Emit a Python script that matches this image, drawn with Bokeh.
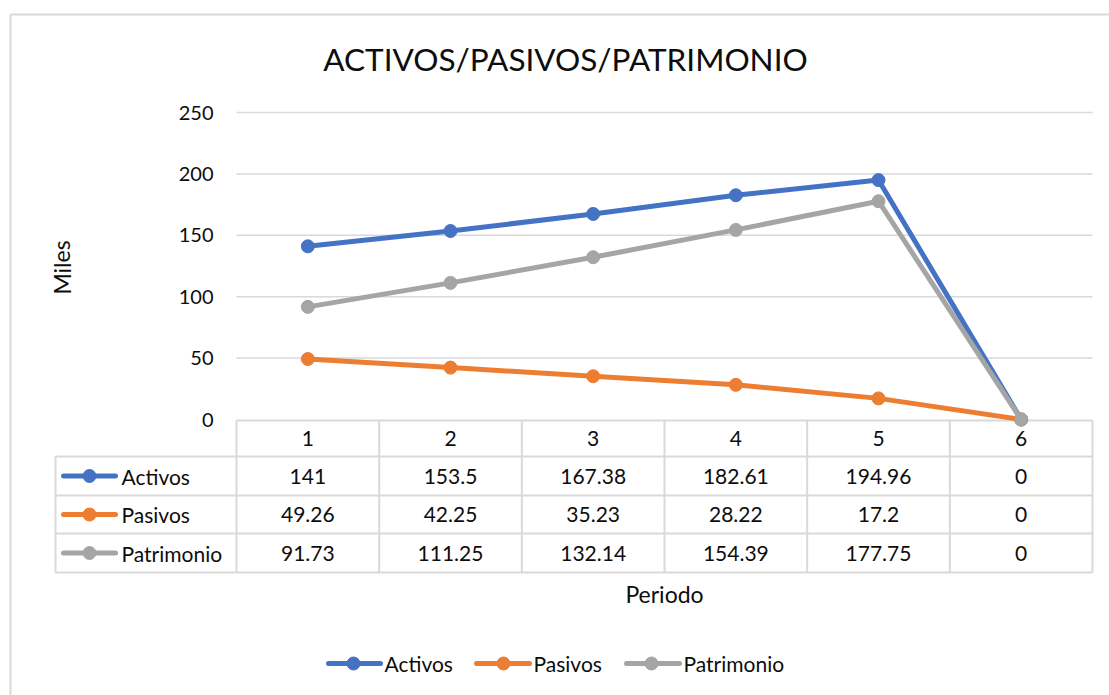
from bokeh.plotting import figure
from bokeh.models import Range1d
from bokeh.core.properties import value
from bokeh.embed import file_html
from bokeh.resources import INLINE

# ---------------- data ----------------
periods = ["1", "2", "3", "4", "5", "6"]
series_names = ["Activos", "Pasivos", "Patrimonio"]
activos = [141, 153.5, 167.38, 182.61, 194.96, 0]
pasivos = [49.26, 42.25, 35.23, 28.22, 17.2, 0]
patrimonio = [91.73, 111.25, 132.14, 154.39, 177.75, 0]
y_ticks = [0, 50, 100, 150, 200, 250]
colors = ["#4472C4", "#ED7D31", "#A5A5A5"]
title_text = "ACTIVOS/PASIVOS/PATRIMONIO"
x_label = "Periodo"
y_label = "Miles"

series_values = [activos, pasivos, patrimonio]

# ---------------- layout geometry (page pixels) ----------------
W, H = 1109, 695
OFF = 0
PX0, PX1 = 236, 1092          # plot area left/right
PY_TOP, PY_ZERO = 112, 419    # y of top tick / zero
YMAX = y_ticks[-1]
ncol = len(periods)
colw = (PX1 - PX0) / ncol
ppu = (PY_ZERO - PY_TOP) / YMAX


def dx(rx):
    return 0.5 + (rx - PX0) / colw


def dy(ry):
    return (PY_ZERO - ry) / ppu


FONT = value("Lato")
TXT = "#0d0d0d"
GRID = "#D9D9D9"
FS = "20px"
FS_TAB = "21px"
FS_NAME = "21px"

p = figure(width=W, height=H,
           x_range=Range1d(dx(OFF), dx(OFF + W)),
           y_range=Range1d(dy(OFF + H), dy(OFF)),
           x_axis_location=None, y_axis_location=None,
           output_backend="svg", toolbar_location=None,
           min_border=0, outline_line_color=None,
           background_fill_color="white", border_fill_color="white")
p.grid.visible = False

# outer chart border
p.segment(x0=[dx(10), dx(10)], y0=[dy(14), dy(14)],
          x1=[dx(1115), dx(10)], y1=[dy(14), dy(700)],
          line_color=GRID, line_width=2)

# title
p.text(x=[dx(565)], y=[dy(58)], text=[title_text], text_font=FONT,
       text_font_size="31.5px", text_align="center", text_baseline="middle",
       text_color=TXT)

# gridlines
p.segment(x0=[dx(PX0)] * (len(y_ticks) - 1), x1=[dx(PX1)] * (len(y_ticks) - 1),
          y0=y_ticks[1:], y1=y_ticks[1:], line_color=GRID, line_width=1.5)

# y tick labels
p.text(x=[dx(213)] * len(y_ticks), y=y_ticks, text=[str(t) for t in y_ticks],
       text_font=FONT, text_font_size=FS, text_align="right",
       text_baseline="middle", text_color=TXT)

# y axis label
p.text(x=[dx(61)], y=[dy(267)], text=[y_label], angle=1.5708,
       text_font=FONT, text_font_size="23px", text_align="center",
       text_baseline="middle", text_color=TXT)

# data table grid
row_edges = [420, 456, 495, 533, 572]
col_edges = [0.5 + i for i in range(ncol + 1)]
hx0 = [dx(PX0)] + [dx(55)] * (len(row_edges) - 1)
p.segment(x0=hx0, x1=[dx(PX1)] * len(row_edges),
          y0=[dy(r) for r in row_edges], y1=[dy(r) for r in row_edges],
          line_color=GRID, line_width=2)
p.segment(x0=col_edges, x1=col_edges,
          y0=[dy(row_edges[0])] * len(col_edges),
          y1=[dy(row_edges[-1])] * len(col_edges),
          line_color=GRID, line_width=2)
p.segment(x0=[dx(55)], x1=[dx(55)], y0=[dy(row_edges[1])], y1=[dy(row_edges[-1])],
          line_color=GRID, line_width=2)

xs = list(range(1, ncol + 1))
row_centers = [(row_edges[i] + row_edges[i + 1]) / 2 for i in range(len(row_edges) - 1)]

# header (category labels)
p.text(x=xs, y=[dy(row_centers[0])] * ncol, text=periods, text_font=FONT,
       text_font_size=FS_TAB, text_align="center", text_baseline="middle",
       text_color=TXT)

# series lines + table rows
for name, vals, c, rc in zip(series_names, series_values, colors, row_centers[1:]):
    p.line(xs, vals, line_color=c, line_width=5, line_join="round")
    p.scatter(xs, vals, size=13, fill_color=c, line_color=c)
    yy = dy(rc)
    p.text(x=xs, y=[yy] * ncol, text=[f"{v:g}" for v in vals], text_font=FONT,
           text_font_size=FS_TAB, text_align="center", text_baseline="middle",
           text_color=TXT)
    # row header key
    p.line([dx(63), dx(115)], [dy(rc), dy(rc)], line_color=c, line_width=5,
           line_cap="round")
    p.scatter([dx(89)], [dy(rc)], size=13, fill_color=c, line_color=c)
    p.text(x=[dx(121)], y=[yy], text=[name], text_font=FONT, text_font_size=FS_NAME,
           text_align="left", text_baseline="middle", text_color=TXT)

# x axis title
p.text(x=[(1 + ncol) / 2], y=[dy(593)], text=[x_label], text_font=FONT,
       text_font_size="23px", text_align="center", text_baseline="middle",
       text_color=TXT)

# bottom legend
leg_keys = [(328, 380, 353, 384), (476, 529, 503, 533), (626, 679, 651, 683)]
LY = 663
for name, c, (k0, k1, km, tx) in zip(series_names, colors, leg_keys):
    p.line([dx(k0), dx(k1)], [dy(LY), dy(LY)], line_color=c, line_width=5,
           line_cap="round")
    p.scatter([dx(km)], [dy(LY)], size=13, fill_color=c, line_color=c)
    p.text(x=[dx(tx)], y=[dy(LY)], text=[name], text_font=FONT,
           text_font_size=FS_NAME, text_align="left", text_baseline="middle",
           text_color=TXT)

open("out.html", "w").write(file_html(p, INLINE))
